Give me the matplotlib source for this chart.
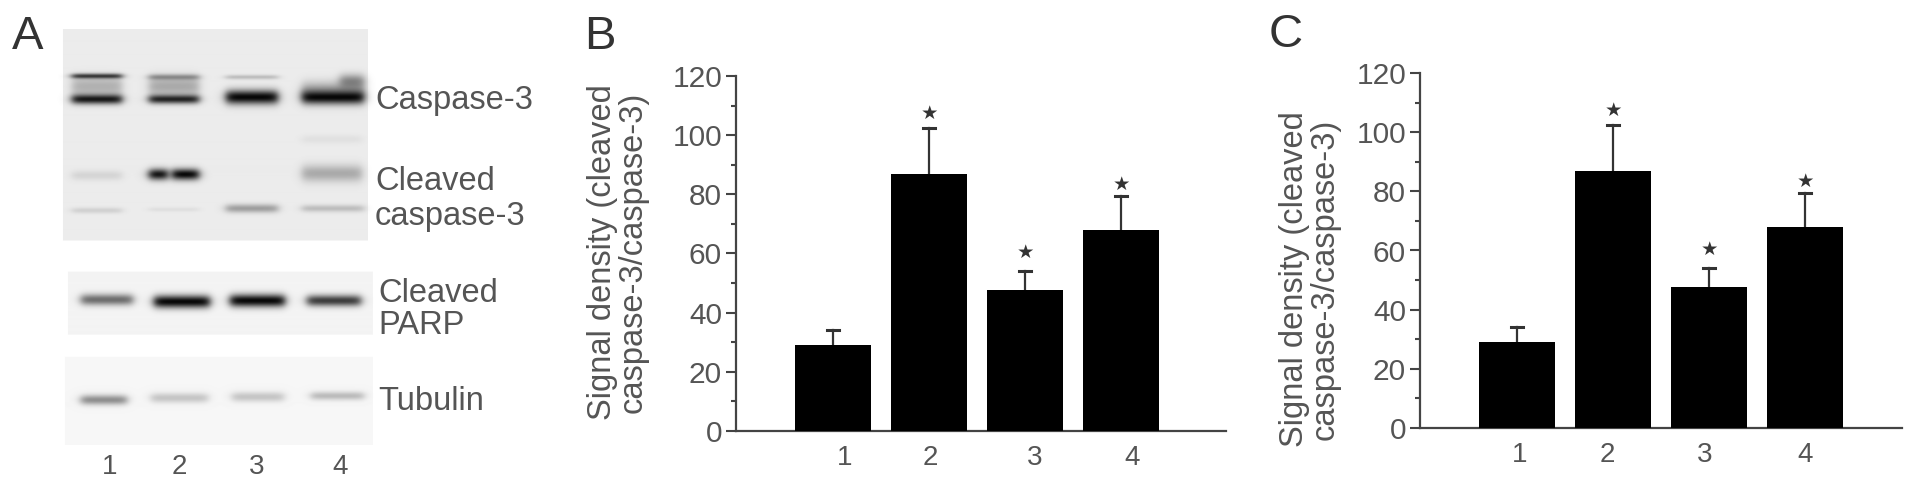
import numpy as np
from matplotlib import pyplot as plt

W, H = 1913, 490
FONT = 'Liberation Sans'
GREY = '#555555'

# bar chart values (panels B and C show the same numbers)
lanes = ['1', '2', '3', '4']
means = [29, 87, 47.5, 68]
err_tops = [34, 102.5, 54, 79.5]
star_vals = [None, 107.5, 60.5, 83.5]
yticks = [0, 20, 40, 60, 80, 100, 120]
ylab = 'Signal density (cleaved\ncaspase-3/caspase-3)'

# blot panels: x0, x1, y0, y1, grey level
gels = [(63, 368, 30, 241, 0.925),
        (68, 373, 272, 335, 0.955),
        (65, 373, 357, 445, 0.965)]

# blot bands: x0, x1, y centre, y spread, darkness
casp_main = [(72, 122, 100, 3.5, 0.9), (149, 199, 100, 3.2, 0.85), (226, 278, 98, 5, 0.97), (302, 364, 98, 5, 0.97)]
casp_top = [(72, 122, 77, 1.8, 0.75), (149, 199, 78, 2, 0.35), (226, 278, 78, 1.6, 0.2), (340, 364, 82, 5, 0.4)]
casp_haze = [(72, 122, 87, 7, 0.25), (149, 199, 87, 7, 0.28), (302, 364, 90, 6, 0.25)]
cleaved = [(72, 122, 176, 3.5, 0.1), (149, 168, 175, 4, 0.95), (172, 199, 175, 4, 0.98),
           (302, 362, 174, 6, 0.28), (302, 362, 140, 3, 0.05)]
cleaved_low = [(72, 122, 211, 2, 0.12), (149, 199, 210, 1.5, 0.06), (226, 278, 209, 3, 0.33), (302, 364, 209, 2.5, 0.2)]
parp = [(81, 133, 300, 4, 0.55), (154, 210, 302, 4.5, 0.97), (230, 285, 301, 4.5, 0.97), (307, 361, 301, 4, 0.75)]
tubulin = [(81, 127, 400, 3.5, 0.42), (151, 208, 398, 3.5, 0.2), (232, 284, 397, 3.5, 0.2), (311, 364, 396, 3, 0.24)]
bands = casp_main + casp_top + casp_haze + cleaved + cleaved_low + parp + tubulin

blot_labels = [('Caspase-3', 375, 101), ('Cleaved', 375, 182), ('caspase-3', 375, 216),
               ('Cleaved', 378, 293), ('PARP', 378, 326), ('Tubulin', 378, 401)]
lane_x = [110, 179, 257, 340]


def fx(x):
    return x / W


def fy(y):
    return 1 - y / H


fig = plt.figure(figsize=(W / 100, H / 100), dpi=100, facecolor='white')

# panel A blot drawn as an image
ax_a = fig.add_axes([0, fy(450), fx(380), (450 - 20) / H])
xx, yy = np.meshgrid(np.arange(380) + 0.5, np.arange(20, 450) + 0.5)
img = np.ones(xx.shape)
for x0, x1, y0, y1, level in gels:
    inside = (xx >= x0) & (xx < x1) & (yy >= y0) & (yy < y1)
    img[inside] = level
for x0, x1, yc, sy, dark in bands:
    across = 1 / (1 + np.exp((x0 - xx) / 2.5)) * 1 / (1 + np.exp((xx - x1) / 2.5))
    down = np.exp(-(yy - yc) ** 2 / (2 * sy ** 2))
    img = img * (1 - dark * across * down)
ax_a.imshow(img, cmap='gray', vmin=0, vmax=1, aspect='auto', extent=(0, 380, 450, 20), interpolation='bilinear')
ax_a.axis('off')

for txt, x, y in blot_labels:
    fig.text(fx(x), fy(y), txt, family=FONT, fontsize=23.5, color=GREY, ha='left', va='center')
for txt, x in zip(lanes, lane_x):
    fig.text(fx(x), fy(467), txt, family=FONT, fontsize=20, color=GREY, ha='center', va='center')


def bar_panel(left, right, bottom, top, first_bar, label_pos, lab_x, lab_y):
    # one x unit is the 96 px step between bars
    ax = fig.add_axes([fx(left), fy(bottom), (right - left) / W, (bottom - top) / H])
    ax.patch.set_alpha(0)
    ax.set_xlim((left - first_bar) / 96, (right - first_bar) / 96)
    ax.set_ylim(0, 120)
    x = np.arange(len(means))
    ax.bar(x, means, width=0.79, color='black', zorder=3)
    for i in x:
        ax.plot([i, i], [means[i], err_tops[i]], color='#333333', lw=1.6, zorder=2)
        ax.plot([i - 0.06, i + 0.06], [err_tops[i], err_tops[i]], color='#333333', lw=2.2, zorder=2)
        if star_vals[i] is not None:
            ax.text(i, star_vals[i], '\u2605', family='DejaVu Sans', fontsize=14, color='#333333', ha='center', va='center')
    for s in ['top', 'right']:
        ax.spines[s].set_visible(False)
    for s in ['left', 'bottom']:
        ax.spines[s].set_color('#444444')
        ax.spines[s].set_linewidth(1.6)
    ax.set_yticks(yticks)
    ax.set_yticks([10, 30, 50, 70, 90, 110], minor=True)
    ax.tick_params(axis='y', which='major', length=7, width=1.5, color='#444444', labelsize=21.5, labelcolor=GREY, pad=3)
    ax.tick_params(axis='y', which='minor', length=3.5, width=1.5, color='#444444')
    ax.set_xticks(label_pos)
    ax.set_xticklabels(lanes)
    ax.tick_params(axis='x', length=0, labelsize=20, labelcolor=GREY, pad=10)
    for t in ax.get_xticklabels() + ax.get_yticklabels():
        t.set_family(FONT)
    fig.text(fx(lab_x), fy(lab_y), ylab, family=FONT, fontsize=23.5, color=GREY, rotation=90,
             ha='center', va='center', multialignment='center', linespacing=1.0)


bar_panel(736, 1226, 431, 76, 833, [0.12, 1.01, 2.1, 3.12], 618, 252)
bar_panel(1420, 1902, 428, 73, 1517, [0.03, 0.94, 1.95, 3.0], 1310, 279)

for txt, x, y in [('A', 28, 37), ('B', 600, 37), ('C', 1286, 35)]:
    fig.text(fx(x), fy(y), txt, family=FONT, fontsize=34, color='#333333', ha='center', va='center')

fig.savefig('out.png', dpi=100)
